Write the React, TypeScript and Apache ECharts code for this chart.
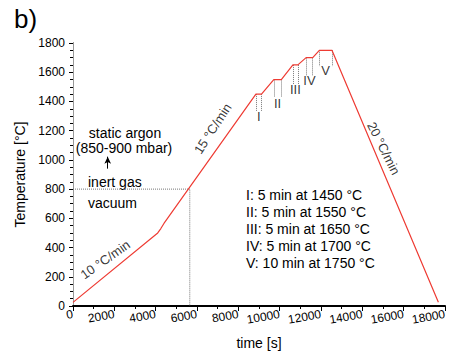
import React, { useEffect, useRef } from "react";
import * as echarts from "echarts";

// Heating profile (time in s, temperature in °C)
const profileTime = [0, 4100, 4250, 4400, 8850, 9120, 9715, 10080, 10640, 10880, 11280, 11600, 11920, 12530, 17680];
const profileTemp = [25, 500, 530, 565, 1450, 1450, 1550, 1550, 1650, 1650, 1700, 1700, 1750, 1750, 25];

// Dwell plateaus
const plateauNames = ["I", "II", "III", "IV", "V"];
const plateauStart = [8850, 9715, 10640, 11280, 11920];
const plateauEnd = [9120, 10080, 10880, 11600, 12530];
const plateauTemp = [1450, 1550, 1650, 1700, 1750];
const plateauDropTo = [1335, 1430, 1515, 1575, 1640];
const plateauLabelTemp = [1295, 1385, 1485, 1545, 1612];

// Vacuum / inert gas switch point
const switchTime = 5650;
const switchTemp = 800;

// Arrow (inert gas -> static argon)
const arrowTime = 1680;
const arrowFromTemp = 940;
const arrowToTemp = 1022;

// Rate annotations
const rateTexts = ["10 °C/min", "15 °C/min", "20 °C/min"];
const rateTime = [1560, 6760, 15030];
const rateTemp = [318, 1214, 1079];
const rateRotate = [35, 57, -63];

// Legend lines
const legendLines = [
  "I: 5 min at 1450 °C",
  "II: 5 min at 1550 °C",
  "III: 5 min at 1650 °C",
  "IV: 5 min at 1700 °C",
  "V: 10 min at 1750 °C",
];

// Axis ticks
const xMin = 0, xMax = 18000, xInterval = 2000;
const yMin = 0, yMax = 1800, yInterval = 200;

const FONT = "'Liberation Sans', Arial, Helvetica, sans-serif";
const RED = "#ee3b33";

export default function App() {
  const ref = useRef<HTMLDivElement>(null);
  useEffect(() => {
    if (!ref.current) return;
    const chart = echarts.init(ref.current, null, { renderer: "svg" });
    const dotted = { color: "#777", type: "dotted" as const, width: 1 };
    const plain = (v: number) => String(v);
    const option: any = {
      animation: false,
      backgroundColor: "#fff",
      textStyle: { fontFamily: FONT },
      grid: { left: 73, top: 43, right: 1, bottom: 45, containLabel: false },
      xAxis: [
        {
          type: "value",
          min: xMin,
          max: xMax,
          interval: xInterval,
          name: "time [s]",
          nameLocation: "middle",
          nameGap: 30,
          nameTextStyle: { fontSize: 14, color: "#000", fontFamily: FONT },
          axisLine: { lineStyle: { color: "#000", width: 1 } },
          axisTick: { length: 5, lineStyle: { color: "#000" } },
          minorTick: { show: true, splitNumber: 2, length: 3, lineStyle: { color: "#000" } },
          splitLine: { show: false },
          axisLabel: { fontSize: 12, color: "#000", rotate: 10, margin: 8, fontFamily: FONT, formatter: plain },
        },
        {
          type: "value",
          position: "top",
          min: xMin,
          max: xMax,
          axisLine: { show: true, lineStyle: { color: "#000", width: 2 } },
          axisTick: { show: false },
          axisLabel: { show: false },
          splitLine: { show: false },
        },
      ],
      yAxis: [
        {
          type: "value",
          min: yMin,
          max: yMax,
          interval: yInterval,
          name: "Temperature [°C]",
          nameLocation: "middle",
          nameGap: 41,
          nameTextStyle: { fontSize: 14, color: "#000", fontFamily: FONT },
          axisLine: { show: true, lineStyle: { color: "#000", width: 1 } },
          axisTick: { show: true, length: 4, lineStyle: { color: "#000" } },
          minorTick: { show: true, splitNumber: 4, length: 3, lineStyle: { color: "#000" } },
          splitLine: { show: false },
          axisLabel: { fontSize: 12, color: "#000", margin: 8, fontFamily: FONT, formatter: plain },
        },
        {
          type: "value",
          position: "right",
          min: yMin,
          max: yMax,
          axisLine: { show: true, lineStyle: { color: "#999", width: 1 } },
          axisTick: { show: false },
          axisLabel: { show: false },
          splitLine: { show: false },
        },
      ],
      series: [
        {
          type: "line",
          data: profileTime.map((t, i) => [t, profileTemp[i]]),
          symbol: "none",
          lineStyle: { color: RED, width: 1.2 },
          z: 5,
        },
        {
          type: "line",
          data: [
            [xMin, switchTemp],
            [switchTime, switchTemp],
            [switchTime, yMin],
          ],
          symbol: "none",
          lineStyle: dotted,
          z: 2,
          markLine: {
            silent: true,
            symbol: "none",
            label: { show: false },
            lineStyle: dotted,
            data: plateauNames.flatMap((_, i) => [
              [{ coord: [plateauStart[i], plateauTemp[i]] }, { coord: [plateauStart[i], plateauDropTo[i]] }],
              [{ coord: [plateauEnd[i], plateauTemp[i]] }, { coord: [plateauEnd[i], plateauDropTo[i]] }],
            ]),
          },
        },
        {
          type: "line",
          data: [],
          markLine: {
            silent: true,
            symbol: ["none", "arrow"],
            symbolSize: [5, 7],
            label: { show: false },
            lineStyle: { color: "#000", type: "solid", width: 1 },
            data: [[{ coord: [arrowTime, arrowFromTemp] }, { coord: [arrowTime, arrowToTemp] }]],
          },
        },
        {
          type: "scatter",
          symbolSize: 0,
          data: plateauNames.map((n, i) => ({
            name: n,
            value: [(plateauStart[i] + plateauEnd[i]) / 2, plateauLabelTemp[i]],
          })),
          label: {
            show: true,
            position: "inside",
            formatter: "{b}",
            fontSize: 13,
            color: "#000",
            fontFamily: FONT,
          },
        },
        {
          type: "scatter",
          symbolSize: 0,
          data: rateTexts.map((n, i) => ({
            name: n,
            value: [rateTime[i], rateTemp[i]],
            label: { rotate: rateRotate[i] },
          })),
          label: {
            show: true,
            position: "inside",
            formatter: "{b}",
            fontSize: 13,
            color: "#000",
            fontFamily: FONT,
          },
        },
      ],
      graphic: [
        {
          type: "text",
          left: 14,
          top: 6,
          style: { text: "b)", fontSize: 26, fill: "#000", fontFamily: FONT },
        },
        {
          type: "text",
          x: 125,
          y: 133,
          style: { text: "static argon", fontSize: 14, fill: "#000", fontFamily: FONT, align: "center", verticalAlign: "middle" },
        },
        {
          type: "text",
          x: 124,
          y: 148,
          style: { text: "(850-900 mbar)", fontSize: 14, fill: "#000", fontFamily: FONT, align: "center", verticalAlign: "middle" },
        },
        {
          type: "text",
          x: 88,
          y: 182,
          style: { text: "inert gas", fontSize: 14, fill: "#000", fontFamily: FONT, align: "left", verticalAlign: "middle" },
        },
        {
          type: "text",
          x: 88,
          y: 203,
          style: { text: "vacuum", fontSize: 14, fill: "#000", fontFamily: FONT, align: "left", verticalAlign: "middle" },
        },
        {
          type: "text",
          x: 246,
          y: 186,
          style: {
            text: legendLines.join("\n"),
            fontSize: 14,
            lineHeight: 17,
            fill: "#000",
            fontFamily: FONT,
            align: "left",
            verticalAlign: "top",
          },
        },
      ],
    };
    chart.setOption(option);
    return () => chart.dispose();
  }, []);
  return (
    <div
      ref={ref}
      style={{ position: "fixed", left: 0, top: 0, width: 449, height: 355, background: "#fff" }}
    />
  );
}
